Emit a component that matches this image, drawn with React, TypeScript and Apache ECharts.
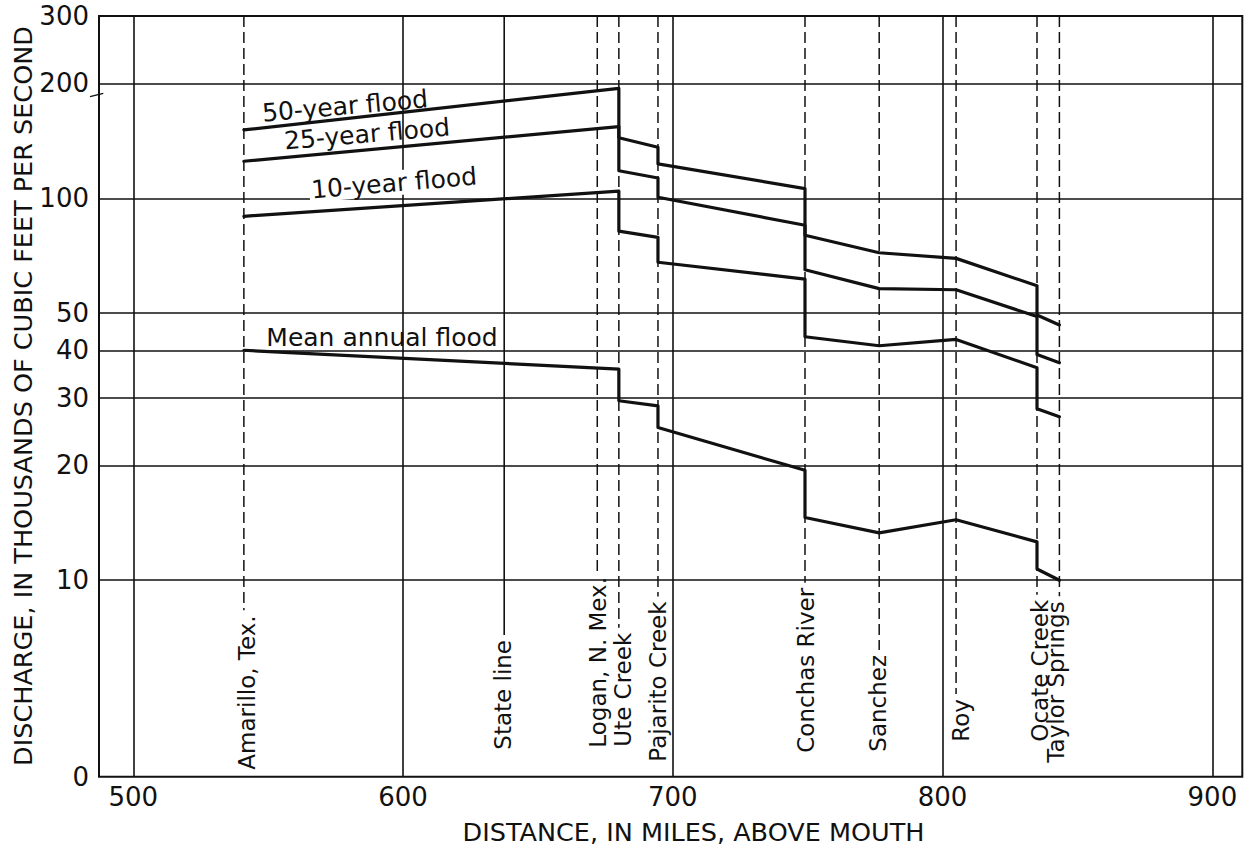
import React, { useEffect, useRef } from 'react';
import * as echarts from 'echarts';

// Gaging points along the river, in miles above the mouth
const stationNames = [
  'Amarillo, Tex.',
  'State line',
  'Logan, N. Mex.',
  'Ute Creek',
  'Pajarito Creek',
  'Conchas River',
  'Sanchez',
  'Roy',
  'Ocate Creek',
  'Taylor Springs',
];
const stationMiles = [541, 637.5, 672, 680, 694.5, 749, 776.5, 805, 835, 843.3];

// Profile points for the flood curves; a repeated mile is a step at a tributary mouth
const profileMiles = [541, 680, 680, 694.5, 694.5, 749, 749, 776.5, 805, 835, 835, 843.3];

// Discharge, thousands of cubic feet per second
const flood50Values = [151, 194, 144, 136, 123, 106, 80, 72, 69.6, 59, 49.5, 46.6];
const flood25Values = [125, 154, 118, 113, 100.6, 85, 65, 58, 57.6, 49, 39, 37.1];
const flood10Values = [89.7, 104.4, 82, 79, 68, 61.4, 43.4, 41.1, 42.7, 36, 28.1, 26.8];
const meanAnnualValues = [40, 35.7, 29.5, 28.6, 25.1, 19.4, 14.6, 13.3, 14.4, 12.6, 10.7, 10];

// Axis ticks
const xTickValues = [500, 600, 700, 800, 900];
const yGridValues = [10, 20, 30, 40, 50, 100, 200];
const yLabelValues = [10, 20, 30, 40, 50, 100, 200, 300];

// Axis extents (the log scale is broken below 10; its floor is lettered "0")
const X_MIN = 487.3;
const X_MAX = 911.1;
const Y_MIN = 3.06;
const Y_MAX = 300;

// Hand-lettered station names: lift of each name above the frame and sideways nudge
const labelLift = [7, 27, 29, 30, 15, 24, 25, 35, 35, 14];
const labelShift = [3, -1, 1, 4, 0, 1, -1, 5, 3, -3];

const FONT = "'DejaVu Sans', sans-serif";
const INK = '#111';

let measureCtx: CanvasRenderingContext2D | null = null;
function textWidth(text: string, font: string): number {
  if (!measureCtx) measureCtx = document.createElement('canvas').getContext('2d');
  measureCtx!.font = font;
  return measureCtx!.measureText(text).width;
}

function curve(name: string, values: number[]) {
  return {
    type: 'line',
    name,
    data: profileMiles.map((m, i) => [m, values[i]]),
    symbol: 'none',
    showSymbol: false,
    silent: true,
    clip: false,
    z: 5,
    lineStyle: { color: INK, width: 3.2, join: 'round', cap: 'round' },
  };
}

export default function App() {
  const ref = useRef<HTMLDivElement>(null);

  useEffect(() => {
    const chart = echarts.init(ref.current!, null, { renderer: 'svg' });
    const stationFont = `23px ${FONT}`;
    const curveFont = `25px ${FONT}`;
    const titleFont = `25.5px ${FONT}`;
    const deg = Math.PI / 180;

    const option: any = {
      animation: false,
      backgroundColor: '#ffffff',
      grid: {
        left: 99,
        right: 13.7,
        top: 16,
        bottom: 72.3,
        show: true,
        borderColor: INK,
        borderWidth: 2,
        backgroundColor: 'transparent',
        outerBoundsMode: 'none',
      },
      xAxis: {
        type: 'value',
        min: X_MIN,
        max: X_MAX,
        axisLine: { show: false },
        axisTick: { show: false, customValues: xTickValues },
        axisLabel: {
          customValues: xTickValues,
          fontSize: 26,
          fontFamily: FONT,
          color: INK,
          margin: 7,
        },
        splitLine: { show: true, lineStyle: { color: INK, width: 1.6 } },
      },
      yAxis: {
        type: 'log',
        logBase: 10,
        min: Y_MIN,
        max: Y_MAX,
        axisLine: { show: false },
        axisTick: { show: false, customValues: yGridValues },
        axisLabel: {
          customValues: [Y_MIN, ...yLabelValues],
          formatter: (v: number) => (v < 5 ? '0' : String(Math.round(v))),
          fontSize: 26,
          fontFamily: FONT,
          color: INK,
          margin: 10,
        },
        splitLine: { show: true, lineStyle: { color: INK, width: 1.5 } },
      },
      series: [
        {
          type: 'custom',
          silent: true,
          clip: false,
          z: 3,
          data: stationMiles.map((m) => [m, Y_MAX]),
          encode: { x: 0, y: 1 },
          renderItem: (params: any, api: any) => {
            const i = params.dataIndex;
            const mile = api.value(0);
            const top = api.coord([mile, Y_MAX]);
            const floorY = api.coord([mile, Y_MIN])[1];
            const name = stationNames[i];
            const textEnd = floorY - labelLift[i];
            const w = textWidth(name, stationFont);
            const solid = name === 'State line';
            const lineStyle: any = { stroke: INK, lineWidth: solid ? 1.6 : 1.5 };
            if (!solid) lineStyle.lineDash = [11, 5];
            return {
              type: 'group',
              children: [
                {
                  type: 'line',
                  shape: { x1: top[0], y1: top[1], x2: top[0], y2: textEnd - w - 5 },
                  style: lineStyle,
                },
                {
                  type: 'text',
                  x: top[0] + labelShift[i],
                  y: textEnd,
                  rotation: Math.PI / 2,
                  style: {
                    text: name,
                    font: stationFont,
                    fill: INK,
                    align: 'left',
                    verticalAlign: 'middle',
                  },
                },
              ],
            };
          },
        },
        curve('50-year flood', flood50Values),
        curve('25-year flood', flood25Values),
        curve('10-year flood', flood10Values),
        curve('Mean annual flood', meanAnnualValues),
      ],
      graphic: [
        {
          type: 'text',
          x: 23,
          y: 396,
          rotation: Math.PI / 2,
          z: 100,
          style: {
            text: 'DISCHARGE, IN THOUSANDS OF CUBIC FEET PER SECOND',
            font: titleFont,
            fill: INK,
            align: 'center',
            verticalAlign: 'middle',
          },
        },
        {
          type: 'text',
          x: 693.5,
          y: 832,
          z: 100,
          style: {
            text: 'DISTANCE, IN MILES, ABOVE MOUTH',
            font: titleFont,
            fill: INK,
            align: 'center',
            verticalAlign: 'middle',
          },
        },
        {
          type: 'text',
          x: 345,
          y: 106,
          rotation: 5 * deg,
          z: 100,
          style: { text: '50-year flood', font: curveFont, fill: INK, align: 'center', verticalAlign: 'middle' },
        },
        {
          type: 'text',
          x: 367,
          y: 134,
          rotation: 4.9 * deg,
          z: 100,
          style: { text: '25-year flood', font: curveFont, fill: INK, align: 'center', verticalAlign: 'middle' },
        },
        {
          type: 'text',
          x: 394,
          y: 183,
          rotation: 4.8 * deg,
          z: 100,
          style: {
            text: '10-year flood',
            font: curveFont,
            fill: INK,
            align: 'center',
            verticalAlign: 'middle',
            backgroundColor: '#ffffff',
            padding: [0, 2],
          },
        },
        {
          type: 'text',
          x: 382,
          y: 337,
          z: 100,
          style: { text: 'Mean annual flood', font: curveFont, fill: INK, align: 'center', verticalAlign: 'middle' },
        },
        // break mark on the discharge scale
        {
          type: 'line',
          z: 100,
          shape: { x1: 90, y1: 96.7, x2: 103.3, y2: 93.3 },
          style: { stroke: INK, lineWidth: 1.2 },
        },
      ],
    };

    chart.setOption(option);
    return () => chart.dispose();
  }, []);

  return (
    <div
      ref={ref}
      style={{ position: 'fixed', left: 0, top: 0, width: 1256, height: 849, background: '#fff' }}
    />
  );
}
